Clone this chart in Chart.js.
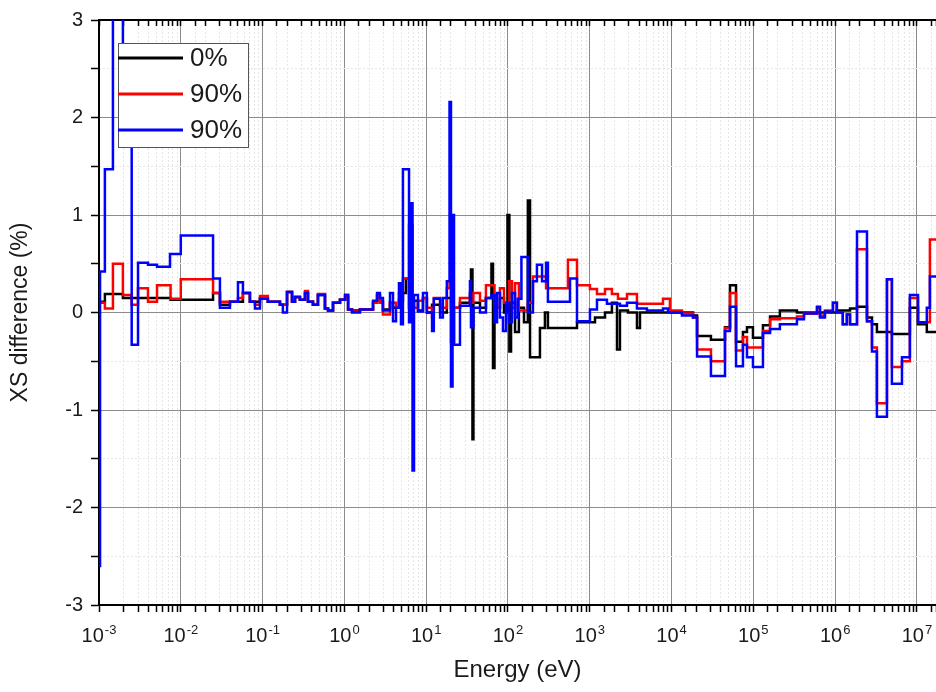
<!DOCTYPE html>
<html>
<head>
<meta charset="utf-8">
<script src="https://cdn.jsdelivr.net/npm/chart.js@4"></script>
<style>
  body { margin: 0; background: #fff; }
  canvas { display: block; }
</style>
</head>
<body>
<canvas id="xs-chart" width="936" height="692"></canvas>
<script>
// energy group edges (eV) and step values (%)
let BLACK_E = [1.0e-3, 1.18e-3, 1.96e-3, 7.5e-3, 2.48e-2, 3.01e-2, 3.99e-2, 5.75e-2, 7.0e-2, 9.29e-2,
  0.116, 0.163, 0.199, 0.229, 0.249, 0.286, 0.33, 0.359, 0.413, 0.475,
  0.579, 0.631, 0.726, 0.883, 1.02, 1.11, 1.24, 1.55, 2.24, 2.51,
  2.72, 2.96, 3.61, 3.93, 4.65, 5.2, 5.66, 6.17, 7.1, 7.94,
  9.14, 10.2, 11.8, 14.8, 17.9, 20.1, 25.9, 34.3, 35.3, 36.8,
  37.8, 45.5, 53.8, 62.8, 65.6, 68.4, 79.8, 89.3, 98.6, 104,
  109, 122, 136, 157, 175, 186, 246, 283, 308, 698,
  1159, 1535, 1866, 2153, 2339, 2931, 3776, 4111, 9550, 1.83e4,
  2.05e4, 3.03e4, 4.5e4, 5.18e4, 6.14e4, 7.46e4, 8.36e4, 9.89e4, 1.31e5, 1.6e5,
  2.11e5, 3.41e5, 1.05e6, 1.52e6, 1.85e6, 2.45e6, 2.82e6, 3.24e6, 4.94e6, 8.2e6,
  1.03e7, 1.32e7, 1.71e7];
let BLACK_V = [0.11, 0.19, 0.15, 0.13, 0.2, 0.08, 0.11, 0.2, 0.11, 0.14,
  0.11, 0.08, 0.21, 0.11, 0.16, 0.13, 0.2, 0.11, 0.08, 0.18,
  0.04, 0.02, 0.1, 0.13, 0.18, 0.03, 0.02, 0.03, 0.1, 0.18,
  0.12, 0.03, 0.1, 0.05, 0.12, 0.2, 0.35, 0.05, 0.12, 0.02,
  0.15, 0.0, 0.08, 0.0, 0.15, 0.05, 0.1, 0.2, 0.44, -1.3,
  0.1, 0.05, 0.15, 0.5, -0.57, 0.05, 0.15, 0.0, 1.0, -0.4,
  0.1, -0.2, 0.05, -0.1, 1.15, -0.46, -0.16, 0.0, -0.16, -0.1,
  -0.05, 0.0, 0.1, -0.38, 0.02, 0.0, -0.16, 0.0, 0.0, -0.03,
  -0.24, -0.28, -0.15, 0.28, -0.3, -0.2, -0.15, -0.26, -0.13, -0.04,
  0.02, 0.0, 0.02, 0.04, 0.06, -0.05, -0.12, -0.2, -0.22, 0.05,
  -0.12, -0.2, -0.2];

let RED_E = [1.0e-3, 1.18e-3, 1.48e-3, 1.96e-3, 2.51e-3, 3.0e-3, 3.97e-3, 5.12e-3, 7.5e-3, 1.0e-2,
  2.48e-2, 3.01e-2, 5.0e-2, 5.75e-2, 7.0e-2, 8.07e-2, 9.29e-2, 0.116, 0.163, 0.199,
  0.229, 0.249, 0.286, 0.33, 0.359, 0.413, 0.475, 0.579, 0.631, 0.726,
  0.883, 1.02, 1.11, 1.24, 1.55, 2.24, 2.51, 2.72, 2.96, 3.61,
  4.28, 4.65, 5.2, 6.17, 6.81, 7.94, 9.14, 10.2, 11.8, 12.4,
  14.8, 17.9, 19.3, 20.1, 21.9, 25.9, 34.3, 37.8, 45.5, 53.8,
  68.4, 79.8, 89.3, 103, 112, 122, 136, 175, 202, 292,
  541, 698, 1005, 1225, 1535, 1866, 2213, 2851, 3776, 7852,
  9550, 1.34e4, 1.83e4, 2.05e4, 3.03e4, 4.5e4, 5.18e4, 6.14e4, 7.46e4, 8.36e4,
  1.31e5, 1.6e5, 2.11e5, 3.41e5, 4.16e5, 6.0e5, 6.52e5, 7.5e5, 9.4e5, 1.05e6,
  1.24e6, 1.39e6, 1.52e6, 1.85e6, 2.45e6, 2.82e6, 3.24e6, 4.3e6, 4.94e6, 6.56e6,
  8.2e6, 1.03e7, 1.44e7, 1.71e7];
let RED_V = [0.1, 0.04, 0.5, 0.18, 0.08, 0.25, 0.11, 0.28, 0.14, 0.34,
  0.2, 0.11, 0.15, 0.2, 0.11, 0.08, 0.17, 0.11, 0.08, 0.21,
  0.11, 0.16, 0.13, 0.22, 0.11, 0.08, 0.19, 0.04, 0.02, 0.1,
  0.13, 0.16, 0.03, 0.01, 0.03, 0.1, 0.17, 0.1, -0.02, 0.1,
  0.05, 0.2, 0.35, 0.9, 0.05, 0.12, 0.15, 0.05, -0.05, 0.15,
  0.05, 0.25, 0.3, -0.3, 0.05, 0.15, 0.1, 0.2, 0.12, 0.28,
  0.05, 0.25, 0.1, 0.32, 0.05, 0.3, 0.02, 0.1, 0.37, 0.25,
  0.54, 0.28, 0.24, 0.19, 0.24, 0.19, 0.14, 0.19, 0.09, 0.14,
  0.02, -0.01, -0.05, -0.38, -0.5, -0.16, 0.2, -0.39, -0.25, -0.36,
  -0.19, -0.07, -0.06, -0.04, -0.01, 0.05, -0.03, 0.02, 0.1, 0.0,
  -0.12, -0.02, -0.12, 0.65, -0.09, -0.36, -0.93, 0.34, -0.56, -0.5,
  0.15, -0.1, 0.75, 0.75];

let BLUE_E = [1.0e-3, 1.03e-3, 1.18e-3, 1.48e-3, 1.96e-3, 2.51e-3, 3.0e-3, 3.97e-3, 5.12e-3, 7.38e-3,
  1.0e-2, 2.48e-2, 3.01e-2, 3.99e-2, 5.0e-2, 5.75e-2, 7.0e-2, 8.07e-2, 9.29e-2, 0.116,
  0.163, 0.177, 0.199, 0.229, 0.249, 0.286, 0.33, 0.359, 0.413, 0.475,
  0.579, 0.631, 0.726, 0.883, 1.02, 1.11, 1.24, 1.55, 2.24, 2.51,
  2.72, 2.96, 3.61, 3.93, 4.28, 4.65, 4.92, 5.2, 6.17, 6.52,
  6.81, 7.1, 7.94, 9.14, 10.2, 11.8, 12.4, 14.8, 16.0, 17.9,
  19.3, 20.1, 21.0, 21.9, 25.9, 34.3, 35.3, 37.8, 45.5, 53.8,
  62.8, 68.4, 73.5, 79.8, 86.9, 94.6, 103, 112, 122, 132,
  146, 175, 202, 226, 261, 292, 308, 573, 698, 1005,
  1225, 1622, 2339, 2851, 3776, 5000, 7852, 9036, 1.34e4, 1.83e4,
  2.05e4, 3.03e4, 4.5e4, 5.18e4, 6.14e4, 7.46e4, 8.36e4, 9.89e4, 1.31e5, 1.6e5,
  2.11e5, 3.41e5, 4.16e5, 6.0e5, 6.52e5, 7.5e5, 9.4e5, 1.05e6, 1.24e6, 1.39e6,
  1.52e6, 1.85e6, 2.45e6, 2.82e6, 3.24e6, 4.3e6, 4.94e6, 6.56e6, 8.2e6, 1.03e7,
  1.32e7, 1.44e7, 1.71e7];
let BLUE_V = [-2.6, 0.42, 1.47, 4.0, 2.2, -0.33, 0.51, 0.49, 0.47, 0.6,
  0.79, 0.35, 0.05, 0.11, 0.31, 0.2, 0.11, 0.04, 0.14, 0.11,
  0.08, 0.0, 0.21, 0.11, 0.16, 0.13, 0.2, 0.11, 0.08, 0.18,
  0.04, 0.02, 0.1, 0.13, 0.18, 0.03, 0.0, 0.03, 0.12, 0.2,
  0.15, 0.02, 0.2, -0.09, 0.05, 0.3, -0.12, 1.47, -0.1, 1.12,
  -1.62, 0.18, 0.01, 0.2, 0.0, -0.19, 0.14, -0.05, 0.15, 0.32,
  2.16, -0.76, 1.0, -0.33, 0.07, 0.32, -0.15, 0.05, 0.0, 0.15,
  0.18, -0.1, 0.2, -0.05, -0.19, 0.1, -0.1, 0.2, -0.05, 0.14,
  0.57, 0.0, 0.32, 0.49, 0.32, 0.51, 0.11, 0.35, -0.09, 0.03,
  0.13, 0.09, 0.07, 0.1, 0.04, 0.02, 0.04, 0.0, -0.03, -0.05,
  -0.45, -0.65, -0.19, 0.06, -0.55, -0.33, -0.46, -0.56, -0.21, -0.17,
  -0.12, -0.07, -0.01, 0.06, -0.05, 0.01, 0.1, 0.0, -0.12, -0.02,
  -0.12, 0.83, -0.09, -0.4, -1.07, 0.34, -0.73, -0.46, 0.18, -0.1,
  0.05, 0.37, 0.37];

let SERIES_LABELS = ['0%', '90%', '90%'];
let SERIES_COLORS = ['#000000', '#ff0000', '#0000ff'];
let X_MIN = 1e-3;
let X_MAX = 1.71e7;
let Y_MIN = -3;
let Y_MAX = 3;

let FONT = '"Liberation Sans", Arial, sans-serif';
let MAJOR_GRID = '#8c8c8c';
let MINOR_GRID = '#e6e6e6';

let to_points = function(energies, values) {
    return energies.map(function(e, i) { return {x: e, y: values[i]}; });
};

let is_decade = function(v) {
    let e = Math.log10(v);
    return Math.abs(e - Math.round(e)) < 1e-6;
};

// 10^n labels with a raised exponent under the bottom axis
let decade_labels = {
    id: 'decade_labels',
    afterDraw: function(chart) {
        let scale = chart.scales.x;
        let ctx = chart.ctx;
        ctx.save();
        ctx.fillStyle = '#1a1a1a';
        ctx.textBaseline = 'alphabetic';
        scale.ticks.forEach(function(t) {
            if (!is_decade(t.value)) return;
            let base = '10';
            let sup = String(Math.round(Math.log10(t.value)));
            ctx.font = '20px ' + FONT;
            let w1 = ctx.measureText(base).width;
            ctx.font = '13px ' + FONT;
            let w2 = ctx.measureText(sup).width;
            let x0 = scale.getPixelForValue(t.value) - (w1 + w2 + 1) / 2;
            ctx.font = '20px ' + FONT;
            ctx.fillText(base, x0, scale.top + 37);
            ctx.font = '13px ' + FONT;
            ctx.fillText(sup, x0 + w1 + 1, scale.top + 29);
        });
        ctx.restore();
    }
};

// boxed legend drawn over the lines, top left of the plot
let boxed_legend = {
    id: 'boxed_legend',
    afterDatasetsDraw: function(chart) {
        let ctx = chart.ctx;
        let left = 118, top = 43, width = 130, height = 104;
        ctx.save();
        ctx.fillStyle = '#ffffff';
        ctx.fillRect(left, top, width, height);
        ctx.strokeStyle = '#555555';
        ctx.lineWidth = 1;
        ctx.strokeRect(left + 0.5, top + 0.5, width, height);
        ctx.font = '26px ' + FONT;
        ctx.textBaseline = 'middle';
        chart.data.datasets.forEach(function(ds, i) {
            let y = 58 + i * 36;
            ctx.strokeStyle = ds.borderColor;
            ctx.lineWidth = 3;
            ctx.beginPath();
            ctx.moveTo(left, y);
            ctx.lineTo(left + 65, y);
            ctx.stroke();
            ctx.fillStyle = '#1a1a1a';
            ctx.fillText(ds.label, left + 72, y + 1);
        });
        ctx.restore();
    }
};

window.onload = function() {
    let chart_element = document.getElementById('xs-chart');
    let series = [
        to_points(BLACK_E, BLACK_V),
        to_points(RED_E, RED_V),
        to_points(BLUE_E, BLUE_V)
    ];

    let chart = new Chart(chart_element, {
        type: 'line',
        plugins: [boxed_legend, decade_labels],
        data: {
            datasets: series.map(function(points, i) {
                return {
                    label: SERIES_LABELS[i],
                    data: points,
                    borderColor: SERIES_COLORS[i],
                    backgroundColor: SERIES_COLORS[i],
                    borderWidth: 2.5,
                    pointRadius: 0,
                    stepped: 'before',
                    fill: false,
                    order: 3 - i,
                };
            }),
        },
        options: {
            responsive: false,
            devicePixelRatio: 1,
            animation: false,
            layout: { padding: 0 },
            plugins: {
                legend: { display: false },
                tooltip: { enabled: false },
            },
            scales: {
                x: {
                    type: 'logarithmic',
                    position: 'bottom',
                    weight: 2,
                    min: X_MIN,
                    max: X_MAX,
                    ticks: { display: false, autoSkip: false },
                    grid: {
                        color: function(c) { return c.tick && is_decade(c.tick.value) ? MAJOR_GRID : 'rgba(0,0,0,0)'; },
                        tickColor: '#000000',
                        tickLength: 7,
                        tickWidth: 1.5,
                    },
                    border: { color: '#000000', width: 2 },
                    title: {
                        display: true,
                        text: 'Energy (eV)',
                        color: '#1a1a1a',
                        font: { family: FONT, size: 24 },
                        padding: { bottom: 7 },
                    },
                    afterFit: function(s) { s.height = 87; },
                },
                // dotted minor grid, zero-sized helper axes
                x_minor: {
                    type: 'logarithmic',
                    position: 'bottom',
                    weight: 1,
                    min: X_MIN,
                    max: X_MAX,
                    ticks: { display: false, autoSkip: false },
                    grid: {
                        drawTicks: false,
                        color: function(c) { return c.tick && !is_decade(c.tick.value) ? MINOR_GRID : 'rgba(0,0,0,0)'; },
                    },
                    border: { display: false, dash: [2, 2] },
                    afterFit: function(s) { s.height = 0; },
                },
                x_top: {
                    type: 'logarithmic',
                    position: 'top',
                    min: X_MIN,
                    max: X_MAX,
                    ticks: { display: false, autoSkip: false },
                    grid: {
                        drawOnChartArea: false,
                        tickColor: '#000000',
                        tickLength: -6,
                        tickWidth: 1.5,
                    },
                    border: { color: '#000000', width: 2 },
                    afterFit: function(s) { s.height = 17; },
                },
                y: {
                    min: Y_MIN,
                    max: Y_MAX,
                    weight: 2,
                    ticks: {
                        stepSize: 0.5,
                        color: '#1a1a1a',
                        font: { family: FONT, size: 20 },
                        padding: 8,
                        callback: function(v) { return Number.isInteger(v) ? String(v) : ''; },
                    },
                    grid: {
                        color: function(c) { return c.tick && Number.isInteger(c.tick.value) ? MAJOR_GRID : 'rgba(0,0,0,0)'; },
                        tickColor: '#000000',
                        tickLength: 8,
                        tickWidth: 1.5,
                    },
                    border: { color: '#000000', width: 2 },
                    title: {
                        display: true,
                        text: 'XS difference (%)',
                        color: '#1a1a1a',
                        font: { family: FONT, size: 23 },
                        padding: { top: 7 },
                    },
                    afterFit: function(s) { s.width = 99; },
                },
                y_minor: {
                    position: 'left',
                    weight: 1,
                    min: Y_MIN,
                    max: Y_MAX,
                    ticks: { display: false, stepSize: 0.5 },
                    grid: {
                        drawTicks: false,
                        color: function(c) { return c.tick && !Number.isInteger(c.tick.value) ? MINOR_GRID : 'rgba(0,0,0,0)'; },
                    },
                    border: { display: false, dash: [2, 2] },
                    afterFit: function(s) { s.width = 0; },
                },
            },
        },
    });
};
</script>
</body>
</html>
